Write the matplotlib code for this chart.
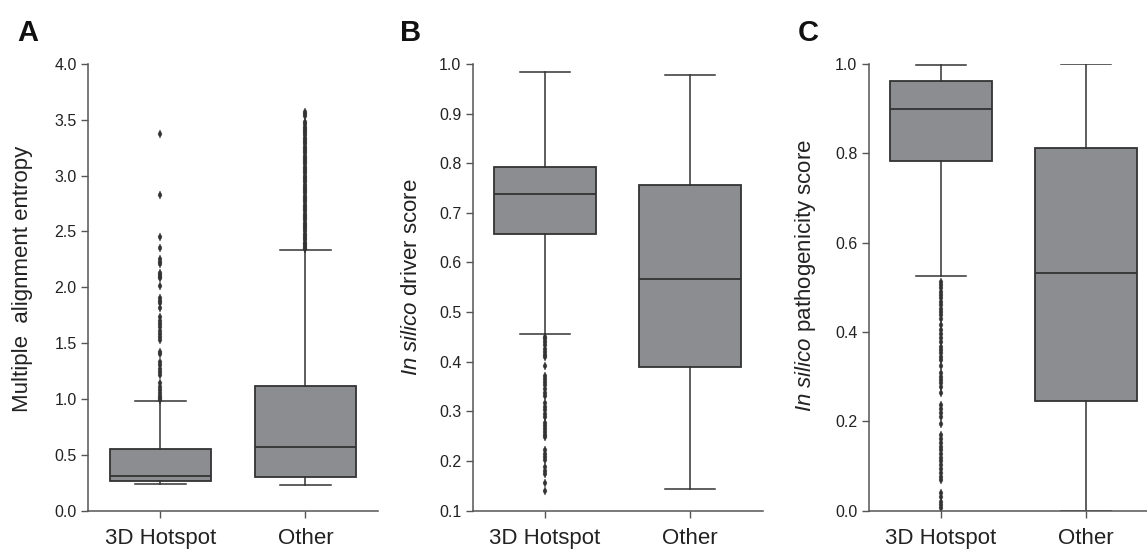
import numpy as np
import matplotlib
matplotlib.use("Agg")
import matplotlib.pyplot as plt

plt.rcParams['font.family'] = ['Liberation Sans', 'DejaVu Sans']
plt.rcParams['mathtext.fontset'] = 'custom'
plt.rcParams['mathtext.rm'] = 'Liberation Sans'
plt.rcParams['mathtext.it'] = 'Liberation Sans:italic'

groups = ['3D Hotspot', 'Other']

# Panel A: multiple alignment entropy  (q1, median, q3, whisker low, whisker high)
entropy_hot = [0.26, 0.313, 0.552, 0.238, 0.98]
entropy_other = [0.304, 0.568, 1.113, 0.229, 2.337]
entropy_hot_out = [3.37, 2.83, 2.45, 2.35, 2.25, 2.23, 2.21, 2.13, 2.11, 2.09, 2.08,
                   2.01, 1.90, 1.88, 1.86, 1.81, 1.73, 1.70, 1.67, 1.64, 1.61, 1.58,
                   1.55, 1.53, 1.42, 1.40, 1.33, 1.30, 1.27, 1.24, 1.21, 1.14, 1.11,
                   1.08, 1.05, 1.03, 1.01, 0.99]
entropy_other_out = [2.34, 2.35, 2.37, 2.39, 2.40, 2.42, 2.44, 2.46, 2.48, 2.50, 2.52,
                     2.54, 2.56, 2.58, 2.60, 2.62, 2.64, 2.66, 2.68, 2.70, 2.72, 2.74,
                     2.76, 2.78, 2.80, 2.82, 2.84, 2.86, 2.88, 2.90, 2.92, 2.94, 2.96,
                     2.98, 3.00, 3.02, 3.04, 3.06, 3.08, 3.10, 3.12, 3.14, 3.16, 3.18,
                     3.20, 3.22, 3.24, 3.26, 3.28, 3.30, 3.32, 3.34, 3.36, 3.38, 3.40,
                     3.42, 3.44, 3.46, 3.48, 3.53, 3.55, 3.57]

# Panel B: in silico driver score
driver_hot = [0.658, 0.737, 0.793, 0.455, 0.984]
driver_other = [0.389, 0.566, 0.756, 0.144, 0.977]
driver_hot_out = [0.449, 0.445, 0.440, 0.433, 0.426, 0.419, 0.413, 0.409, 0.391, 0.372,
                  0.366, 0.359, 0.352, 0.345, 0.337, 0.330, 0.316, 0.309, 0.302, 0.295,
                  0.288, 0.276, 0.270, 0.264, 0.258, 0.252, 0.248, 0.221, 0.214, 0.207,
                  0.201, 0.187, 0.180, 0.173, 0.155, 0.140]
driver_other_out = []

# Panel C: in silico pathogenicity score
patho_hot = [0.7835, 0.900, 0.962, 0.525, 0.998]
patho_other = [0.246, 0.532, 0.8125, 0.0, 1.0]
patho_hot_out = [0.512, 0.505, 0.498, 0.490, 0.483, 0.475, 0.468, 0.460, 0.452, 0.445,
                 0.437, 0.430, 0.415, 0.404, 0.396, 0.387, 0.378, 0.367, 0.360, 0.352,
                 0.344, 0.337, 0.324, 0.307, 0.300, 0.292, 0.285, 0.277, 0.264, 0.236,
                 0.228, 0.219, 0.210, 0.194, 0.169, 0.160, 0.152, 0.143, 0.135, 0.127,
                 0.118, 0.110, 0.102, 0.093, 0.085, 0.076, 0.068, 0.039, 0.030, 0.020,
                 0.012, 0.005]
patho_other_out = []

box_col = '#8c8d91'
line_col = '#333333'
axis_col = '#555555'
text_col = '#222222'


def stats(vals, fliers, label):
    q1, med, q3, lo, hi = vals
    return dict(q1=q1, med=med, q3=q3, whislo=lo, whishi=hi, fliers=fliers, label=label)


panels = [
    ('A', [stats(entropy_hot, entropy_hot_out, groups[0]),
           stats(entropy_other, entropy_other_out, groups[1])],
     'Multiple  alignment entropy', (0, 4.0), np.arange(0, 4.01, 0.5), -0.19, 0.518),
    ('B', [stats(driver_hot, driver_hot_out, groups[0]),
           stats(driver_other, driver_other_out, groups[1])],
     r'$\mathit{In\ silico}$ driver score', (0.1, 1.0), np.arange(0.1, 1.001, 0.1), -0.175, 0.523),
    ('C', [stats(patho_hot, patho_hot_out, groups[0]),
           stats(patho_other, patho_other_out, groups[1])],
     r'$\mathit{In\ silico}$ pathogenicity score', (0, 1.0), np.arange(0, 1.001, 0.2), -0.175, 0.527),
]

fig = plt.figure(figsize=(11.47, 5.49), dpi=100)
lefts = [0.0767, 0.4120, 0.7572]
letter_x = [17, 400, 798]

for (letter, st, ylab, ylim, yticks, lx, ly), left, lxp in zip(panels, lefts, letter_x):
    ax = fig.add_axes([left, 0.0701, 0.2528, 0.8133])
    ax.bxp(st, positions=[1, 2], widths=0.7, patch_artist=True, showfliers=True,
           boxprops=dict(facecolor=box_col, edgecolor=line_col, linewidth=1.3),
           medianprops=dict(color=line_col, linewidth=1.3),
           whiskerprops=dict(color=line_col, linewidth=1.1),
           capprops=dict(color=line_col, linewidth=1.1),
           capwidths=0.35,
           flierprops=dict(marker='d', markersize=4, markerfacecolor=line_col,
                           markeredgecolor=line_col, markeredgewidth=0.3, linestyle='none'))
    ax.set_xlim(0.5, 2.5)
    ax.set_ylim(*ylim)
    ax.set_yticks(yticks)
    ax.set_yticklabels(['%.1f' % t for t in yticks])
    ax.set_xticks([1, 2])
    ax.set_xticklabels(groups)
    for s in ['top', 'right']:
        ax.spines[s].set_visible(False)
    for s in ['left', 'bottom']:
        ax.spines[s].set_color(axis_col)
        ax.spines[s].set_linewidth(1.1)
    ax.tick_params(axis='y', direction='out', length=5, width=1, color=axis_col,
                   labelsize=11.5, labelcolor=text_col, pad=3)
    ax.tick_params(axis='x', direction='out', length=5, width=1, color=axis_col,
                   labelsize=16, labelcolor=text_col, pad=7.5)
    ax.set_ylabel(ylab, fontsize=16, color=text_col)
    ax.yaxis.set_label_coords(lx, ly)
    fig.text(lxp / 1147, 1 - 41 / 549, letter, fontsize=21, fontweight='bold',
             color='#111111', va='baseline', ha='left')

fig.savefig('out.png', dpi=100)
